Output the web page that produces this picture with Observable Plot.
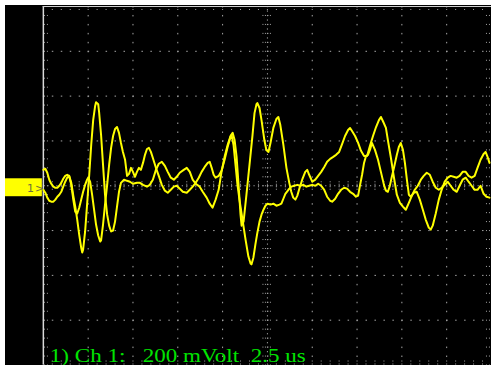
<!DOCTYPE html>
<html><head><meta charset="utf-8">
<script src="https://cdn.jsdelivr.net/npm/d3@7"></script>
<script src="https://cdn.jsdelivr.net/npm/@observablehq/plot@0.6"></script>
<style>
html,body{margin:0;padding:0;background:#fff;overflow:hidden;width:491px;height:365px}
#wrap{position:absolute;left:5px;top:5px}
</style></head><body><div id="wrap"></div>
<script>
// Oscilloscope capture: 2.5 us/div, 200 mV/div. Time in microseconds, voltage in millivolts.
const timeA = [0,0.11,0.22,0.33,0.44,0.56,0.67,0.78,0.89,1.0,1.11,1.22,1.33,1.44,1.56,1.67,1.78,1.89,2.0,2.11,2.17,2.22,2.33,2.44,2.56,2.67,2.78,2.89,2.94,3.06,3.11,3.22,3.33,3.44,3.56,3.67,3.78,3.89,4.0,4.11,4.22,4.33,4.5,4.67,4.83,5.0,5.22,5.39,5.56,5.78,5.94,6.11,6.28,6.44,6.61,6.78,6.94,7.11,7.28,7.44,7.61,7.83,8.0,8.17,8.33,8.5,8.72,8.89,9.11,9.28,9.44,9.61,9.78,9.94,10.11,10.28,10.44,10.56,10.67,10.78,10.89,11.0,11.06,11.17,11.33,11.5,11.67,11.78,11.89,11.94,12.06,12.17,12.33,12.44,12.56,12.67,12.83,13.0,13.11,13.22,13.39,13.56,13.72,13.83,13.94,14.06,14.17,14.28,14.44,14.61,14.72,14.83,15.0,15.17,15.33,15.5,15.67,15.83,16.0,16.17,16.33,16.5,16.67,16.83,17.0,17.11,17.22,17.39,17.56,17.72,17.89,18.06,18.22,18.39,18.56,18.72,18.83,18.94,19.11,19.22,19.39,19.56,19.72,19.89,20.06,20.22,20.39,20.56,20.72,20.89,21.06,21.22,21.39,21.56,21.72,21.89,22.06,22.22,22.39,22.56,22.72,22.89,23.06,23.22,23.39,23.56,23.72,23.89,24.06,24.22,24.39,24.56,24.72,24.89];
const voltA = [71,76,58,27,9,-4,-9,-9,0,13,31,44,49,44,13,-44,-93,-151,-218,-276,-298,-284,-204,-84,49,182,293,356,373,364,329,227,93,-40,-129,-178,-204,-200,-160,-93,-27,13,27,22,18,9,13,13,4,-4,4,27,71,98,107,89,62,36,27,40,58,71,80,62,27,9,-4,-27,-53,-80,-98,-62,-18,62,129,182,222,236,204,129,4,-129,-178,-160,-40,93,227,324,364,369,347,293,204,160,151,191,258,298,307,271,182,80,13,-27,-53,-62,-44,-13,27,62,71,49,18,27,44,62,84,107,120,129,138,151,187,222,249,258,244,222,191,156,133,133,178,222,262,293,307,289,258,204,124,36,-40,-76,-93,-107,-76,-44,-18,0,27,44,58,49,18,-9,-18,-9,4,18,0,-18,-27,0,27,36,18,0,-18,-18,0,-36,-49,-53];
const timeB = [0,0.11,0.22,0.33,0.44,0.56,0.67,0.78,0.89,1.0,1.11,1.22,1.33,1.44,1.56,1.67,1.78,1.89,2.0,2.11,2.22,2.33,2.44,2.5,2.61,2.72,2.83,2.94,3.06,3.17,3.22,3.33,3.44,3.56,3.67,3.78,3.89,4.0,4.11,4.22,4.33,4.44,4.56,4.67,4.78,4.89,5.0,5.11,5.22,5.33,5.44,5.56,5.67,5.78,5.89,6.0,6.11,6.28,6.44,6.61,6.78,6.94,7.11,7.28,7.44,7.61,7.78,8.0,8.17,8.33,8.5,8.67,8.83,9.0,9.17,9.28,9.39,9.5,9.61,9.78,9.94,10.11,10.28,10.44,10.5,10.61,10.72,10.83,10.94,11.11,11.28,11.44,11.56,11.61,11.72,11.83,11.94,12.06,12.17,12.28,12.39,12.5,12.67,12.83,13.0,13.17,13.28,13.39,13.5,13.67,13.83,14.0,14.17,14.33,14.5,14.67,14.83,15.0,15.17,15.33,15.5,15.67,15.83,16.0,16.11,16.28,16.44,16.61,16.78,16.94,17.11,17.28,17.44,17.56,17.67,17.78,17.89,18.0,18.11,18.22,18.33,18.5,18.67,18.83,19.0,19.11,19.22,19.33,19.44,19.56,19.72,19.83,19.94,20.06,20.17,20.28,20.39,20.5,20.67,20.83,21.0,21.17,21.33,21.5,21.61,21.72,21.89,22.06,22.22,22.39,22.56,22.72,22.89,23.06,23.22,23.39,23.56,23.72,23.89,24.06,24.22,24.39,24.56,24.67,24.78,24.89];
const voltB = [-18,-31,-53,-67,-71,-71,-62,-49,-40,-27,-4,18,36,44,4,-62,-116,-124,-98,-62,-27,4,27,36,18,-40,-107,-173,-222,-249,-244,-173,-84,4,93,169,222,253,262,236,191,151,116,44,53,80,62,40,62,80,71,102,138,164,169,151,124,80,44,4,-22,-31,-18,-4,0,-13,-27,-31,-18,-4,13,36,62,84,102,107,80,49,36,44,67,116,173,218,227,182,93,4,-62,-151,-240,-316,-347,-351,-320,-262,-209,-160,-129,-107,-89,-80,-84,-80,-89,-84,-80,-58,-36,-18,-4,0,4,0,4,-4,0,4,0,9,0,-18,-49,-67,-71,-58,-36,-18,-9,-13,-27,-36,-49,-44,4,49,102,133,138,160,191,160,116,62,4,-22,-27,0,40,80,138,173,191,160,102,27,-40,-49,-31,-27,-62,-107,-151,-187,-196,-178,-124,-62,-18,18,36,44,40,36,44,62,62,44,36,44,80,116,142,151,129,102];

// Graticule (screen divisions): 10 x 2.5 us, 8 x 200 mV
const majorT = [2.5, 5, 7.5, 10, 15, 17.5, 20, 22.5];
const majorV = [-600, -400, -200, 200, 400, 600];
const centerT = 12.5, centerV = 0;
const minorT = d3.range(0, 25.001, 0.5);
const minorV = d3.range(-800, 800.001, 40);

const caption = "1) Ch 1:   200 mVolt  2.5 us";
const channelLabel = "1";

const zip = (ts, vs) => ts.slice(0, Math.min(ts.length, vs.length)).map((t, i) => ({t, v: vs[i]}));
const traceA = zip(timeA, voltA);
const traceB = zip(timeB, voltB);

const grid = "#a8a8a8";
const plot = Plot.plot({
  width: 488, height: 361,
  marginLeft: 38, marginRight: 0, marginTop: 1, marginBottom: 0,
  x: {domain: [0, 25], axis: null},
  y: {domain: [-800, 800], axis: null},
  style: {background: "#000", overflow: "visible"},
  marks: [
    Plot.ruleX(majorT, {stroke: grid, strokeDasharray: "1.5,7.5"}),
    Plot.ruleY(majorV, {stroke: grid, strokeDasharray: "1.5,7.5"}),
    Plot.ruleX([centerT], {stroke: grid, strokeDasharray: "1.2,3.3"}),
    Plot.ruleY([centerV], {stroke: grid, strokeDasharray: "1.2,3.3"}),
    Plot.ruleY(minorV, {x1: centerT - 0.25, x2: centerT + 0.25, stroke: grid, strokeDasharray: "1,1.5"}),
    Plot.ruleX(minorT, {y1: centerV - 20, y2: centerV + 20, stroke: grid, strokeDasharray: "1,1.5"}),
    Plot.ruleY(minorV, {x1: 0.06, x2: 0.33, stroke: grid, strokeDasharray: "1,2"}),
    Plot.ruleY(minorV, {x1: 24.72, x2: 25, stroke: grid, strokeDasharray: "1,2"}),
    Plot.ruleX(minorT, {y1: 800, y2: 776, stroke: grid, strokeDasharray: "1,2"}),
    Plot.ruleX(minorT, {y1: -800, y2: -776, stroke: grid, strokeDasharray: "1,2"}),
    Plot.ruleX([0], {stroke: "#d8d8d8", strokeWidth: 1.5}),
    Plot.ruleY([800], {stroke: "#d0d0d0", strokeWidth: 1.2}),
    Plot.line(traceA, {x: "t", y: "v", stroke: "#ffff00", strokeWidth: 2}),
    Plot.line(traceB, {x: "t", y: "v", stroke: "#ffff00", strokeWidth: 2})
  ]
});

const svg = d3.select(plot);
// channel-1 ground marker on the left strip
svg.append("rect").attr("x", 0).attr("y", 174).attr("width", 37).attr("height", 18).attr("fill", "#ffff00");
svg.append("text").attr("x", 22).attr("y", 188).attr("text-anchor", "start")
  .attr("font-family", "DejaVu Sans, sans-serif")
  .attr("font-size", 11).attr("fill", "#6e6e3c").text(channelLabel);
svg.append("text").attr("x", 30).attr("y", 188).attr("text-anchor", "start")
  .attr("font-family", "DejaVu Sans, sans-serif")
  .attr("font-size", 11).attr("fill", "#6e6e3c").text(">");
svg.append("text").attr("x", 45).attr("y", 358).attr("text-anchor", "start")
  .attr("font-family", "Liberation Serif, serif").attr("font-size", 18)
  .attr("fill", "#00e400").style("white-space", "pre")
  .attr("textLength", 257).attr("lengthAdjust", "spacingAndGlyphs")
  .text(caption);

document.getElementById("wrap").appendChild(plot);
</script></body></html>
